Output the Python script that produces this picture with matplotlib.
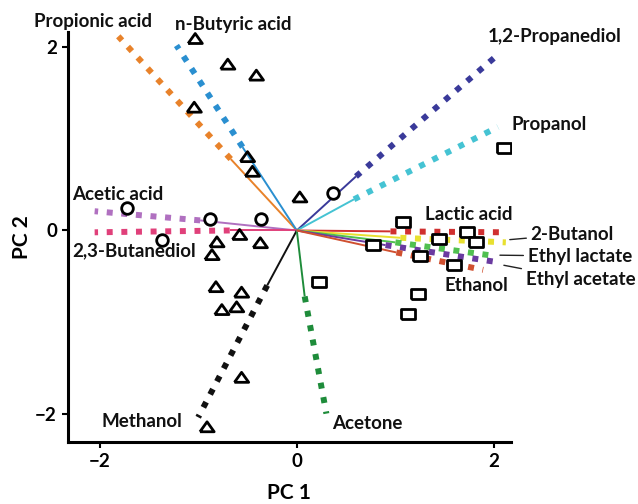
import matplotlib
matplotlib.use("Agg")
import matplotlib.pyplot as plt

plt.rcParams['font.family'] = ['Lato', 'DejaVu Sans']
plt.rcParams['font.weight'] = 'bold'

# Loading vectors: name, colour, inner point (end of thin part), end point
names = ["Propionic acid", "n-Butyric acid", "Acetic acid", "2,3-Butanediol",
         "Methanol", "Acetone", "1,2-Propanediol", "Propanol",
         "Lactic acid", "2-Butanol", "Ethyl lactate", "Ethyl acetate", "Ethanol"]
colors = ["#E8822A", "#2A8FD0", "#B070C0", "#E0407A",
          "#111111", "#1E8C3A", "#3A3A9A", "#45C3D3",
          "#D03030", "#E8E030", "#50C050", "#6A3AA0", "#D05030"]
inner_x = [-0.67, -0.55, -0.98, -0.68, -0.30, 0.08, 0.60, 0.58, 0.95, 1.05, 1.00, 0.90, 1.01]
inner_y = [0.78, 0.91, 0.11, 0.00, -0.60, -0.72, 0.59, 0.34, -0.01, -0.08, -0.13, -0.16, -0.24]
end_x = [-1.81, -1.22, -2.05, -2.05, -1.00, 0.30, 2.04, 2.04, 2.12, 2.12, 2.02, 2.06, 1.89]
end_y = [2.12, 2.02, 0.21, -0.02, -2.04, -2.00, 1.92, 1.13, -0.02, -0.13, -0.28, -0.35, -0.43]

# Label positions for the loading vectors (left edge, centre)
label_x = [-2.66, -1.24, -2.28, -2.28, -1.98, 0.36, 1.94, 2.18, 1.30, 2.37, 2.34, 2.32, 1.50]
label_y = [2.28, 2.25, 0.39, -0.22, -2.09, -2.11, 2.12, 1.16, 0.17, -0.04, -0.28, -0.54, -0.60]

# Samples
tri_x = [-1.03, -0.70, -0.41, -1.04, -0.50, -0.45, 0.03, -0.58, -0.81, -0.37,
         -0.86, -0.82, -0.56, -0.76, -0.61, -0.56, -0.91]
tri_y = [2.09, 1.81, 1.69, 1.34, 0.80, 0.64, 0.36, -0.05, -0.13, -0.14,
         -0.27, -0.62, -0.68, -0.87, -0.84, -1.61, -2.15]
circ_x = [-1.72, -0.88, -0.36, 0.37, -1.37]
circ_y = [0.25, 0.12, 0.12, 0.41, -0.10]
sq_x = [2.10, 1.08, 1.44, 1.73, 1.82, 0.77, 1.25, 1.59, 0.23, 1.23, 1.13]
sq_y = [0.90, 0.09, -0.09, -0.02, -0.13, -0.16, -0.28, -0.38, -0.56, -0.69, -0.91]

xticks = [-2, 0, 2]
yticks = [-2, 0, 2]

fig = plt.figure(figsize=(6.38, 5.04), dpi=100)
ax = fig.add_axes([0.1066, 0.123, 0.694, 0.814])
ax.set_xlim(-2.32, 2.17)
ax.set_ylim(-2.31, 2.17)

for c, ix, iy, ex, ey in zip(colors, inner_x, inner_y, end_x, end_y):
    ax.plot([0, ix], [0, iy], color=c, lw=1.4, zorder=2, solid_capstyle='butt')
    ax.plot([ix, ex], [iy, ey], color=c, lw=4.3, linestyle=(0, (1, 1.45)),
            dash_capstyle='butt', zorder=2)

tri_marker = [(-1, -0.62), (1, -0.62), (0, 0.78), (-1, -0.62)]
rect_marker = [(-1, -0.7), (1, -0.7), (1, 0.7), (-1, 0.7), (-1, -0.7)]
ax.scatter(tri_x, tri_y, marker=tri_marker, s=105, facecolors='none',
           edgecolors='black', linewidths=2, zorder=3)
ax.scatter(circ_x, circ_y, marker='o', s=70, facecolors='white',
           edgecolors='black', linewidths=2, zorder=3)
ax.scatter(sq_x, sq_y, marker=rect_marker, s=95, facecolors='white',
           edgecolors='black', linewidths=2, zorder=3)

fs = 13.5
leaders = {"2-Butanol": (2.16, -0.10), "Ethyl lactate": (2.06, -0.27),
           "Ethyl acetate": (2.10, -0.38)}
for name, lx, ly in zip(names, label_x, label_y):
    if name in leaders:
        ax.annotate(name, xy=leaders[name], xytext=(lx, ly), fontsize=fs,
                    fontweight='bold', color='#111111', ha='left', va='center',
                    annotation_clip=False,
                    arrowprops=dict(arrowstyle='-', lw=1, color='#222222',
                                    shrinkA=1, shrinkB=0))
    else:
        ax.text(lx, ly, name, fontsize=fs, fontweight='bold', color='#111111',
                ha='left', va='center', clip_on=False, zorder=4)

for s in ['top', 'right']:
    ax.spines[s].set_visible(False)
for s in ['left', 'bottom']:
    ax.spines[s].set_linewidth(2.2)
ax.set_xticks(xticks)
ax.set_yticks(yticks)
ax.set_xticklabels([f"\u2212{abs(t)}" if t < 0 else str(t) for t in xticks])
ax.set_yticklabels([f"\u2212{abs(t)}" if t < 0 else str(t) for t in yticks])
ax.tick_params(width=1.5, length=4, labelsize=13.5, direction='out', pad=4)
for t in ax.get_xticklabels() + ax.get_yticklabels():
    t.set_fontweight('bold')
ax.set_xlabel("PC 1", fontsize=15, fontweight='bold', labelpad=9)
ax.set_ylabel("PC 2", fontsize=15, fontweight='bold', labelpad=2)

fig.savefig("out.png", dpi=100)
